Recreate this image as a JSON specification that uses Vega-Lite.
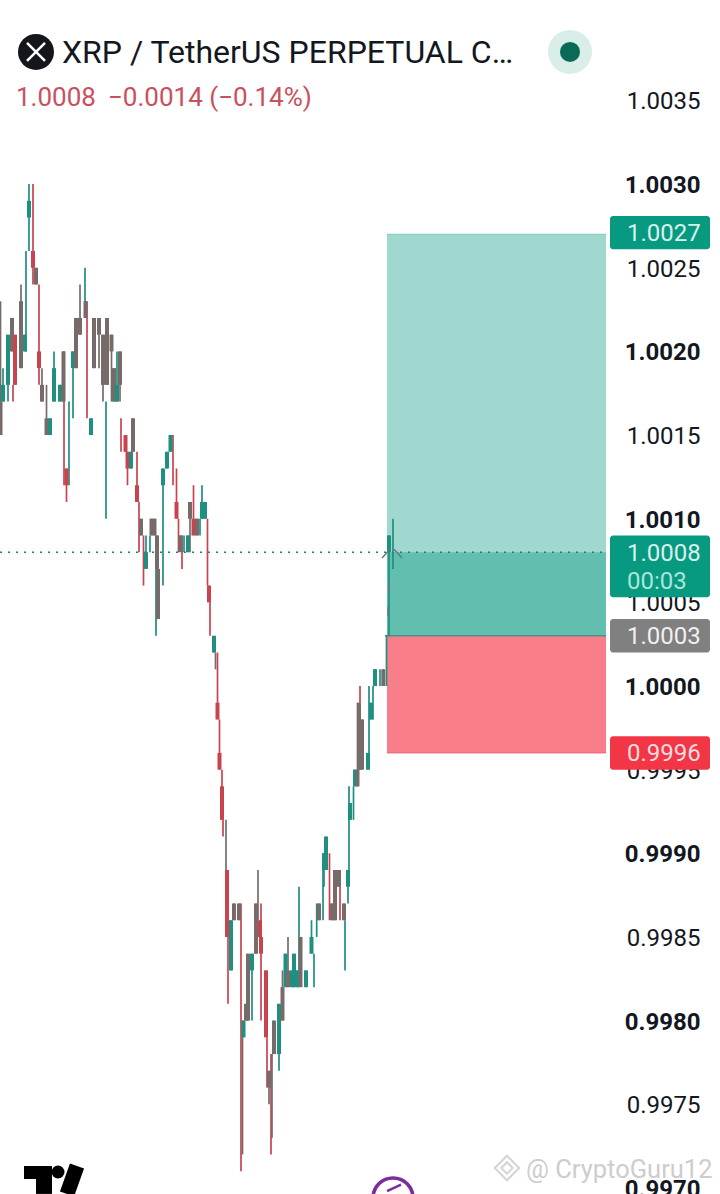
{
"$schema":"https://vega.github.io/schema/vega-lite/v6.json",
"width":720,"height":1194,"padding":0,"autosize":{"type":"none"},
"background":"#ffffff",
"config":{"view":{"stroke":null},"text":{"font":"Roboto"}},
"datasets":{"candles":[
{"t":0.5,"h":1.0023,"l":1.0015,"o":1.0017,"c":1.0015,"k":"n"},
{"t":3,"h":1.0019,"l":1.0017,"o":1.0017,"c":1.0018,"k":"g"},
{"t":8,"h":1.0021,"l":1.0017,"o":1.0018,"c":1.0021,"k":"g"},
{"t":12,"h":1.0022,"l":1.002,"o":1.0022,"c":1.002,"k":"n"},
{"t":13,"h":1.0018,"l":1.0017,"k":"r"},
{"t":15,"h":1.0021,"l":1.0018,"o":1.0021,"c":1.0018,"k":"r"},
{"t":21,"h":1.0024,"l":1.0019,"o":1.0023,"c":1.0019,"k":"n"},
{"t":25,"h":1.0021,"l":1.002,"o":1.002,"c":1.0021,"k":"g"},
{"t":26,"h":1.0026,"l":1.002,"k":"g"},
{"t":29,"h":1.003,"l":1.0026,"o":1.0028,"c":1.0029,"k":"g"},
{"t":33,"h":1.003,"l":1.0024,"o":1.0026,"c":1.0025,"k":"r"},
{"t":36,"h":1.0025,"l":1.0024,"o":1.0025,"c":1.0024,"k":"n"},
{"t":39,"h":1.0024,"l":1.0018,"o":1.002,"c":1.0019,"k":"r"},
{"t":42,"h":1.0019,"l":1.0017,"o":1.0018,"c":1.0017,"k":"n"},
{"t":46.5,"h":1.0018,"l":1.0015,"o":1.0016,"c":1.0015,"k":"n"},
{"t":50,"h":1.0016,"l":1.0015,"o":1.0015,"c":1.0016,"k":"g"},
{"t":54,"h":1.002,"l":1.0017,"o":1.0017,"c":1.0019,"k":"g"},
{"t":60,"h":1.0018,"l":1.0017,"o":1.0017,"c":1.0018,"k":"g"},
{"t":63.5,"h":1.002,"l":1.0017,"o":1.002,"c":1.0017,"k":"n"},
{"t":64,"h":1.002,"l":1.0012,"k":"r"},
{"t":66.5,"h":1.0013,"l":1.0011,"o":1.0013,"c":1.0012,"k":"r"},
{"t":69,"h":1.0017,"l":1.0012,"k":"g"},
{"t":73,"h":1.002,"l":1.0016,"o":1.0019,"c":1.002,"k":"g"},
{"t":76,"h":1.0022,"l":1.0019,"o":1.0022,"c":1.0019,"k":"n"},
{"t":80,"h":1.0024,"l":1.0021,"o":1.0022,"c":1.0021,"k":"n"},
{"t":85,"h":1.0025,"l":1.0022,"k":"g"},
{"t":85.5,"h":1.0023,"l":1.0022,"o":1.0023,"c":1.0022,"k":"n"},
{"t":87,"h":1.0023,"l":1.0016,"k":"r"},
{"t":91,"h":1.0016,"l":1.0015,"o":1.0015,"c":1.0016,"k":"g"},
{"t":94,"h":1.0022,"l":1.0019,"o":1.0022,"c":1.0019,"k":"n"},
{"t":99,"h":1.0022,"l":1.0019,"o":1.0022,"c":1.0021,"k":"n"},
{"t":103,"h":1.0021,"l":1.0017,"o":1.0021,"c":1.0018,"k":"n"},
{"t":106,"h":1.0017,"l":1.001,"k":"g"},
{"t":107,"h":1.0022,"l":1.0018,"o":1.0022,"c":1.0018,"k":"n"},
{"t":111.5,"h":1.0021,"l":1.0017,"o":1.0021,"c":1.002,"k":"n"},
{"t":114,"h":1.0019,"l":1.0017,"o":1.0019,"c":1.0017,"k":"n"},
{"t":117,"h":1.002,"l":1.0017,"o":1.0017,"c":1.0018,"k":"g"},
{"t":120,"h":1.002,"l":1.0017,"o":1.002,"c":1.0018,"k":"n"},
{"t":121,"h":1.0016,"l":1.0014,"k":"r"},
{"t":125.5,"h":1.0015,"l":1.0014,"o":1.0015,"c":1.0014,"k":"r"},
{"t":127.5,"h":1.0014,"l":1.0012,"o":1.0014,"c":1.0013,"k":"r"},
{"t":131,"h":1.0014,"l":1.0013,"o":1.0013,"c":1.0014,"k":"g"},
{"t":133,"h":1.0016,"l":1.0014,"o":1.0016,"c":1.0014,"k":"n"},
{"t":137,"h":1.0014,"l":1.0011,"o":1.0012,"c":1.0011,"k":"r"},
{"t":139,"h":1.0011,"l":1.0008,"k":"r"},
{"t":141,"h":1.001,"l":1.0009,"o":1.001,"c":1.0009,"k":"n"},
{"t":143.5,"h":1.0009,"l":1.0006,"k":"r"},
{"t":146,"h":1.0009,"l":1.0007,"o":1.0007,"c":1.0008,"k":"g"},
{"t":150,"h":1.0009,"l":1.0008,"k":"g"},
{"t":151.5,"h":1.001,"l":1.0009,"o":1.001,"c":1.0009,"k":"n"},
{"t":154.5,"h":1.001,"l":1.0009,"o":1.001,"c":1.0009,"k":"n"},
{"t":156,"h":1.0009,"l":1.0003,"k":"g"},
{"t":157,"h":1.0009,"l":1.0007,"o":1.0009,"c":1.0007,"k":"n"},
{"t":158,"h":1.0007,"l":1.0004,"o":1.0007,"c":1.0004,"k":"n"},
{"t":163,"h":1.0013,"l":1.0006,"o":1.0012,"c":1.0013,"k":"g"},
{"t":167,"h":1.0014,"l":1.0013,"o":1.0013,"c":1.0014,"k":"g"},
{"t":170.5,"h":1.0015,"l":1.0014,"o":1.0014,"c":1.0015,"k":"g"},
{"t":173,"h":1.0015,"l":1.0012,"k":"r"},
{"t":176.5,"h":1.0013,"l":1.001,"o":1.0011,"c":1.001,"k":"r"},
{"t":178.5,"h":1.001,"l":1.0008,"k":"r"},
{"t":180.5,"h":1.0009,"l":1.0008,"o":1.0009,"c":1.0008,"k":"n"},
{"t":182,"h":1.0009,"l":1.0007,"k":"r"},
{"t":184,"h":1.0009,"l":1.0008,"k":"g"},
{"t":188,"h":1.0009,"l":1.0008,"o":1.0008,"c":1.0009,"k":"g"},
{"t":190,"h":1.0011,"l":1.0008,"o":1.0011,"c":1.001,"k":"n"},
{"t":193.5,"h":1.0012,"l":1.0009,"o":1.001,"c":1.0009,"k":"r"},
{"t":197,"h":1.001,"l":1.0009,"o":1.001,"c":1.0009,"k":"n"},
{"t":200,"h":1.001,"l":1.0009,"k":"g"},
{"t":202,"h":1.0012,"l":1.001,"o":1.001,"c":1.0011,"k":"g"},
{"t":205,"h":1.0011,"l":1.001,"o":1.001,"c":1.0011,"k":"g"},
{"t":207.5,"h":1.001,"l":1.0006,"k":"r"},
{"t":209,"h":1.0006,"l":1.0005,"o":1.0006,"c":1.0005,"k":"r"},
{"t":210,"h":1.0005,"l":1.0003,"k":"r"},
{"t":214,"h":1.0003,"l":1.0002,"o":1.0002,"c":1.0003,"k":"g"},
{"t":215.5,"h":1.0002,"l":1.0001,"k":"n"},
{"t":217.5,"h":1.0002,"l":0.9998,"o":0.9999,"c":0.9998,"k":"r"},
{"t":219.5,"h":0.9998,"l":0.9995,"o":0.9996,"c":0.9995,"k":"r"},
{"t":222,"h":0.9995,"l":0.9992,"o":0.9994,"c":0.9992,"k":"r"},
{"t":223,"h":0.9992,"l":0.9991,"k":"r"},
{"t":226,"h":0.9992,"l":0.9989,"k":"n"},
{"t":227,"h":0.9989,"l":0.9985,"o":0.9989,"c":0.9985,"k":"r"},
{"t":228,"h":0.9985,"l":0.9981,"k":"r"},
{"t":231,"h":0.9986,"l":0.9983,"o":0.9983,"c":0.9986,"k":"g"},
{"t":234,"h":0.9987,"l":0.9986,"o":0.9987,"c":0.9986,"k":"n"},
{"t":239,"h":0.9987,"l":0.9986,"o":0.9987,"c":0.9986,"k":"n"},
{"t":241,"h":0.9987,"l":0.9971,"k":"r"},
{"t":242.5,"h":0.998,"l":0.9972,"k":"n"},
{"t":243.5,"h":0.998,"l":0.9979,"o":0.9979,"c":0.998,"k":"g"},
{"t":246,"h":0.9981,"l":0.998,"o":0.9981,"c":0.998,"k":"n"},
{"t":248,"h":0.9984,"l":0.998,"o":0.9984,"c":0.998,"k":"n"},
{"t":252,"h":0.9984,"l":0.998,"o":0.9983,"c":0.9984,"k":"g"},
{"t":256,"h":0.9987,"l":0.9984,"o":0.9987,"c":0.9984,"k":"n"},
{"t":258,"h":0.9989,"l":0.9986,"k":"n"},
{"t":260,"h":0.9986,"l":0.9985,"o":0.9986,"c":0.9985,"k":"r"},
{"t":261,"h":0.9987,"l":0.998,"o":0.9985,"c":0.9984,"k":"r"},
{"t":266,"h":0.9983,"l":0.9979,"o":0.9983,"c":0.9979,"k":"r"},
{"t":267,"h":0.9979,"l":0.9976,"k":"r"},
{"t":269,"h":0.9977,"l":0.9975,"o":0.9977,"c":0.9976,"k":"n"},
{"t":271,"h":0.9978,"l":0.9972,"k":"r"},
{"t":272,"h":0.9978,"l":0.9973,"k":"n"},
{"t":274,"h":0.998,"l":0.9978,"o":0.998,"c":0.9978,"k":"n"},
{"t":279,"h":0.9981,"l":0.9977,"o":0.9978,"c":0.9981,"k":"g"},
{"t":282.5,"h":0.9983,"l":0.998,"o":0.9982,"c":0.998,"k":"n"},
{"t":285.5,"h":0.9984,"l":0.9982,"o":0.9982,"c":0.9984,"k":"g"},
{"t":288,"h":0.9985,"l":0.9982,"o":0.9983,"c":0.9982,"k":"n"},
{"t":292,"h":0.9983,"l":0.9982,"o":0.9982,"c":0.9983,"k":"g"},
{"t":294,"h":0.9984,"l":0.9982,"o":0.9982,"c":0.9984,"k":"g"},
{"t":297,"h":0.9983,"l":0.9982,"o":0.9982,"c":0.9983,"k":"g"},
{"t":299,"h":0.9988,"l":0.9982,"k":"g"},
{"t":300.5,"h":0.9985,"l":0.9982,"o":0.9985,"c":0.9982,"k":"n"},
{"t":306,"h":0.9983,"l":0.9982,"o":0.9982,"c":0.9983,"k":"g"},
{"t":311.5,"h":0.9986,"l":0.9984,"o":0.9984,"c":0.9985,"k":"g"},
{"t":314,"h":0.9984,"l":0.9982,"k":"g"},
{"t":316.7,"h":0.9987,"l":0.9985,"k":"g"},
{"t":319,"h":0.9987,"l":0.9986,"o":0.9987,"c":0.9986,"k":"n"},
{"t":323,"h":0.999,"l":0.9986,"k":"g"},
{"t":324,"h":0.999,"l":0.9988,"o":0.9989,"c":0.999,"k":"g"},
{"t":326,"h":0.9991,"l":0.9989,"o":0.9989,"c":0.9991,"k":"g"},
{"t":329.5,"h":0.999,"l":0.9986,"k":"r"},
{"t":332,"h":0.9987,"l":0.9986,"o":0.9987,"c":0.9986,"k":"n"},
{"t":335,"h":0.9989,"l":0.9986,"o":0.9989,"c":0.9986,"k":"n"},
{"t":339,"h":0.9989,"l":0.9988,"o":0.9989,"c":0.9988,"k":"n"},
{"t":340,"h":0.9989,"l":0.9986,"k":"r"},
{"t":344,"h":0.9987,"l":0.9986,"o":0.9987,"c":0.9986,"k":"n"},
{"t":345,"h":0.9986,"l":0.9983,"k":"g"},
{"t":348,"h":0.9989,"l":0.9987,"o":0.9988,"c":0.9989,"k":"g"},
{"t":349,"h":0.9994,"l":0.9989,"k":"g"},
{"t":350,"h":0.9993,"l":0.9992,"o":0.9992,"c":0.9993,"k":"g"},
{"t":353.5,"h":0.9994,"l":0.9992,"k":"g"},
{"t":355,"h":0.9995,"l":0.9994,"o":0.9994,"c":0.9995,"k":"g"},
{"t":357.5,"h":0.9999,"l":0.9994,"o":0.9995,"c":0.9994,"k":"n"},
{"t":359,"h":0.9999,"l":0.9995,"o":0.9999,"c":0.9995,"k":"n"},
{"t":360,"h":1.0,"l":0.9999,"k":"r"},
{"t":362,"h":0.9998,"l":0.9995,"o":0.9998,"c":0.9995,"k":"n"},
{"t":368,"h":0.9996,"l":0.9995,"o":0.9995,"c":0.9996,"k":"g"},
{"t":369,"h":1.0,"l":0.9996,"k":"g"},
{"t":371,"h":0.9999,"l":0.9998,"o":0.9998,"c":0.9999,"k":"g"},
{"t":373,"h":1.0,"l":0.9998,"k":"g"},
{"t":375,"h":1.0001,"l":1.0,"o":1.0,"c":1.0001,"k":"g"},
{"t":380,"h":1.0001,"l":1.0,"k":"g"},
{"t":383.3,"h":1.0001,"l":1.0,"o":1.0001,"c":1.0,"k":"n"},
{"t":386.5,"h":1.0003,"l":1.0,"k":"g"},
{"t":389,"h":1.0009,"l":1.0003,"o":1.0008,"c":1.0009,"k":"g"},
{"t":393,"h":1.001,"l":1.0007,"k":"g"}
]},
"encoding":{
"x":{"field":"t","type":"quantitative","scale":{"domain":[0,720],"nice":false,"zero":false,"padding":0},"axis":null},
"y":{"field":"p","type":"quantitative","scale":{"domain":[0.9969635,1.0041004],"nice":false,"zero":false,"padding":0},
"axis":{"orient":"left","offset":-700,"title":null,"domain":false,"ticks":false,"grid":false,"labelPadding":0,"labelFont":"Roboto","labelFontSize":24,"labelOffset":1.5,"labelColor":"#131722","labelOverlap":false,"labelBound":false,"labelFlush":false,"format":".4f",
"values":[1.0035,1.003,1.0025,1.002,1.0015,1.001,1.0005,1.0,0.9995,0.999,0.9985,0.998,0.9975,0.997],
"labelFontWeight":{"condition":{"test":"round(datum.value*10000)%10==0","value":"bold"},"value":"normal"}}}
},
"layer":[
{"data":{"values":[{"t":387,"t2":606,"p":1.0003,"p2":1.0027}]},"mark":{"type":"rect","color":"#a0d8cf"},"encoding":{"x2":{"field":"t2"},"y2":{"field":"p2"}}},
{"data":{"values":[{"t":387,"t2":606,"p":1.0003,"p2":1.0008}]},"mark":{"type":"rect","color":"#62bfb0"},"encoding":{"x2":{"field":"t2"},"y2":{"field":"p2"}}},
{"data":{"values":[{"t":387,"t2":606,"p":0.9996,"p2":1.0003}]},"mark":{"type":"rect","color":"#f87e8a"},"encoding":{"x2":{"field":"t2"},"y2":{"field":"p2"}}},
{"data":{"values":[{"t":387,"t2":606,"p":1.0027}]},"mark":{"type":"rule","color":"#7ccabd","strokeWidth":1},"encoding":{"x2":{"field":"t2"}}},
{"data":{"values":[{"t":387,"t2":606,"p":0.9996}]},"mark":{"type":"rule","color":"#ee6473","strokeWidth":1},"encoding":{"x2":{"field":"t2"}}},
{"data":{"values":[{"t":385,"t2":606,"p":1.0003}]},"mark":{"type":"rule","color":"#4f8f88","strokeWidth":1.5},"encoding":{"x2":{"field":"t2"}}},
{"data":{"values":[{"t":0,"t2":606,"p":1.0008}]},"mark":{"type":"rule","color":"#1f7f78","strokeWidth":1.5,"strokeDash":[2,6]},"encoding":{"x2":{"field":"t2"}}},
{"data":{"name":"candles"},"mark":{"type":"rule","strokeWidth":1.7,"strokeCap":"butt"},"encoding":{
"y":{"field":"h","type":"quantitative","scale":{"domain":[0.9969635,1.0041004],"nice":false,"zero":false,"padding":0},
"axis":{"orient":"left","offset":-700,"title":null,"domain":false,"ticks":false,"grid":false,"labelPadding":0,"labelFont":"Roboto","labelFontSize":24,"labelOffset":1.5,"labelColor":"#131722","labelOverlap":false,"labelBound":false,"labelFlush":false,"format":".4f",
"values":[1.0035,1.003,1.0025,1.002,1.0015,1.001,1.0005,1.0,0.9995,0.999,0.9985,0.998,0.9975,0.997],
"labelFontWeight":{"condition":{"test":"round(datum.value*10000)%10==0","value":"bold"},"value":"normal"}}},"y2":{"field":"l"},
"color":{"field":"k","type":"nominal","legend":null,"scale":{"domain":["g","r","n"],"range":["#1f8f80","#c9434f","#776b69"]}}}},
{"data":{"name":"candles"},"transform":[{"filter":"isValid(datum.o)"}],"mark":{"type":"bar","size":4,"orient":"vertical"},"encoding":{
"y":{"field":"o","type":"quantitative","scale":{"domain":[0.9969635,1.0041004],"nice":false,"zero":false,"padding":0},
"axis":{"orient":"left","offset":-700,"title":null,"domain":false,"ticks":false,"grid":false,"labelPadding":0,"labelFont":"Roboto","labelFontSize":24,"labelOffset":1.5,"labelColor":"#131722","labelOverlap":false,"labelBound":false,"labelFlush":false,"format":".4f",
"values":[1.0035,1.003,1.0025,1.002,1.0015,1.001,1.0005,1.0,0.9995,0.999,0.9985,0.998,0.9975,0.997],
"labelFontWeight":{"condition":{"test":"round(datum.value*10000)%10==0","value":"bold"},"value":"normal"}}},"y2":{"field":"c"},
"color":{"field":"k","type":"nominal","legend":null,"scale":{"domain":["g","r","n"],"range":["#1f8f80","#c9434f","#776b69"]}}}},
{"data":{"values":[{"t":382,"t2":390,"p":1.000765,"p2":1.000818},{"t":394,"t2":402,"p":1.000818,"p2":1.000765},{"t":389,"t2":389,"p":1.00062,"p2":1.00055},{"t":388,"t2":388,"p":1.00047,"p2":1.00042}]},"mark":{"type":"rule","color":"#5e7f7a","strokeWidth":1.5},"encoding":{"x2":{"field":"t2"},"y2":{"field":"p2"}}},
{"data":{"values":[{"t":610,"t2":710,"p":1.00261,"p2":1.00281}]},"mark":{"type":"rect","color":"#089981","cornerRadius":3},"encoding":{"x2":{"field":"t2"},"y2":{"field":"p2"}}},
{"data":{"values":[{"t":610,"t2":710,"p":1.00053,"p2":1.0009}]},"mark":{"type":"rect","color":"#089981","cornerRadius":3},"encoding":{"x2":{"field":"t2"},"y2":{"field":"p2"}}},
{"data":{"values":[{"t":610,"t2":710,"p":1.0002,"p2":1.0004}]},"mark":{"type":"rect","color":"#808080","cornerRadius":3},"encoding":{"x2":{"field":"t2"},"y2":{"field":"p2"}}},
{"data":{"values":[{"t":610,"t2":710,"p":0.9995,"p2":0.9997}]},"mark":{"type":"rect","color":"#f23645","cornerRadius":3},"encoding":{"x2":{"field":"t2"},"y2":{"field":"p2"}}},
{"data":{"values":[{"t":627,"p":1.002699,"s":"1.0027"},{"t":627,"p":1.000786,"s":"1.0008"}]},"mark":{"type":"text","align":"left","baseline":"middle","fontSize":24,"font":"Roboto","color":"#d6f2ec"},"encoding":{"text":{"field":"s"}}},
{"data":{"values":[{"t":627,"p":1.000619,"s":"00:03"}]},"mark":{"type":"text","align":"left","baseline":"middle","fontSize":24,"font":"Roboto","color":"#a8e6da"},"encoding":{"text":{"field":"s"}}},
{"data":{"values":[{"t":627,"p":1.00029,"s":"1.0003"}]},"mark":{"type":"text","align":"left","baseline":"middle","fontSize":24,"font":"Roboto","color":"#f0f0f0"},"encoding":{"text":{"field":"s"}}},
{"data":{"values":[{"t":627,"p":0.999591,"s":"0.9996"}]},"mark":{"type":"text","align":"left","baseline":"middle","fontSize":24,"font":"Roboto","color":"#fbdde0"},"encoding":{"text":{"field":"s"}}},
{"data":{"values":[{"t":36,"p":1.00379}]},"mark":{"type":"point","shape":"circle","filled":true,"size":1296,"color":"#14161c","opacity":1}},
{"data":{"values":[{"t":27,"t2":45,"p":1.003844,"p2":1.003736},{"t":45,"t2":27,"p":1.003844,"p2":1.003736}]},"mark":{"type":"rule","color":"#ffffff","strokeWidth":2.5},"encoding":{"x2":{"field":"t2"},"y2":{"field":"p2"}}},
{"data":{"values":[{"t":570,"p":1.00379}]},"mark":{"type":"point","shape":"circle","filled":true,"size":1936,"color":"#d9ede9","opacity":1}},
{"data":{"values":[{"t":570,"p":1.00379}]},"mark":{"type":"point","shape":"circle","filled":true,"size":400,"color":"#0a6a58","opacity":1}},
{"data":{"values":[{"t":62,"p":1.003781,"s":"XRP / TetherUS PERPETUAL C…"}]},"mark":{"type":"text","align":"left","baseline":"middle","fontSize":32,"font":"Roboto","color":"#131722"},"encoding":{"text":{"field":"s"}}},
{"data":{"values":[{"t":16,"p":1.003515,"s":"1.0008"},{"t":108,"p":1.003515,"s":"−0.0014 (−0.14%)"}]},"mark":{"type":"text","align":"left","baseline":"middle","fontSize":26,"font":"Roboto","color":"#c9505f"},"encoding":{"text":{"field":"s"}}},
{"data":{"values":[{"t":24,"t2":52,"p":0.997053,"p2":0.997131},{"t":36,"t2":52,"p":0.996964,"p2":0.997131}]},"mark":{"type":"rect","color":"#000000"},"encoding":{"x2":{"field":"t2"},"y2":{"field":"p2"}}},
{"data":{"values":[{"t":58,"p":0.997095}]},"mark":{"type":"point","shape":"circle","filled":true,"size":169,"color":"#000000","opacity":1}},
{"data":{"values":[{"t":77,"t2":67,"p":0.997131,"p2":0.996964}]},"mark":{"type":"rule","color":"#000000","strokeWidth":15},"encoding":{"x2":{"field":"t2"},"y2":{"field":"p2"}}},
{"data":{"values":[{"t":393,"p":0.99694}]},"mark":{"type":"point","shape":"circle","filled":false,"size":1600,"stroke":"#7b2d9e","strokeWidth":3.5,"opacity":1}},
{"data":{"values":[{"t":387,"t2":401,"p":0.99698,"p2":0.99702}]},"mark":{"type":"rule","color":"#7b2d9e","strokeWidth":2.5},"encoding":{"x2":{"field":"t2"},"y2":{"field":"p2"}}},
{"data":{"values":[{"t":507,"p":0.997119}]},"mark":{"type":"point","shape":"diamond","filled":false,"size":600,"stroke":"#d4d4d4","strokeWidth":2,"opacity":1}},
{"data":{"values":[{"t":507,"p":0.997119}]},"mark":{"type":"point","shape":"diamond","filled":false,"size":130,"stroke":"#d4d4d4","strokeWidth":2,"opacity":1}},
{"data":{"values":[{"t":526,"p":0.997104,"s":"@ CryptoGuru12"}]},"mark":{"type":"text","align":"left","baseline":"middle","fontSize":25.5,"font":"Roboto","color":"#cdcdcd"},"encoding":{"text":{"field":"s"}}}
]
}
